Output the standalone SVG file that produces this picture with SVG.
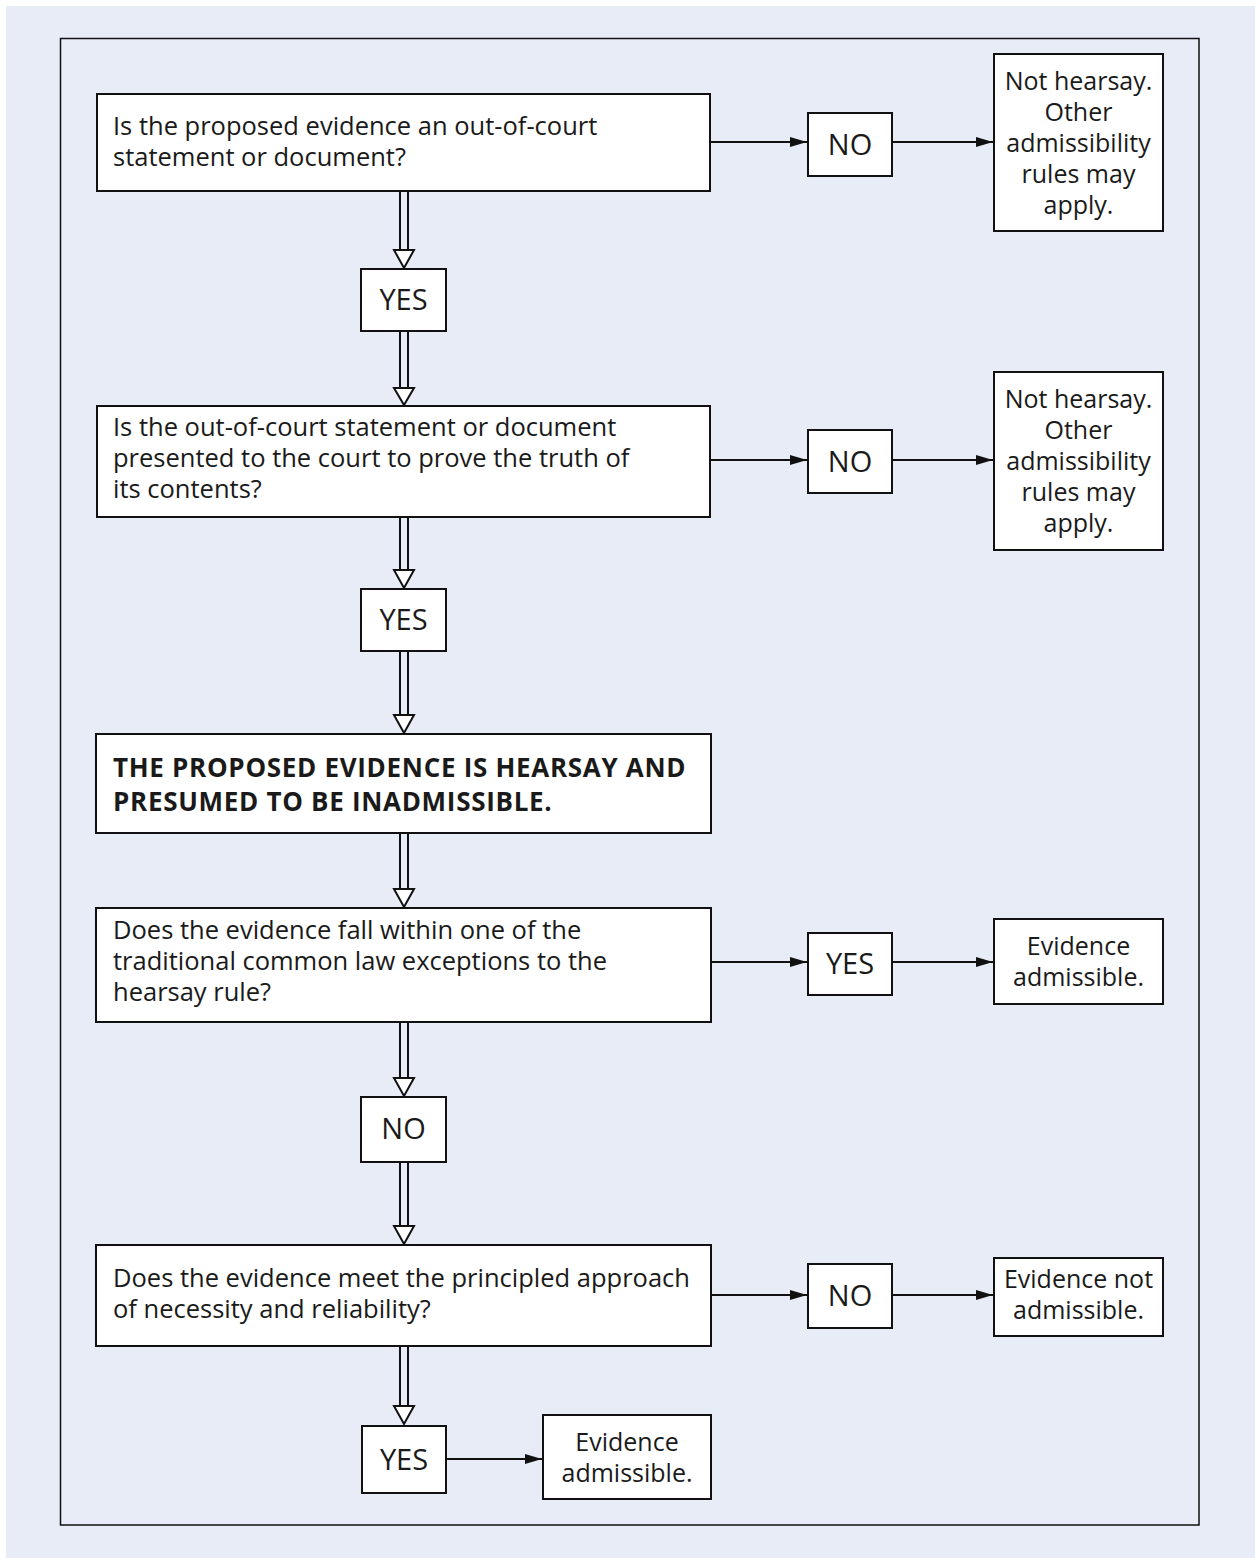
<svg xmlns="http://www.w3.org/2000/svg" width="1255" height="1558" viewBox="0 0 1255 1558">
<style>
.bx{fill:#fff;stroke:#111;stroke-width:2}
.t{font-family:"Open Sans","Liberation Sans",sans-serif;font-size:25.5px;fill:#1a1a1a}
.r{font-size:25px}
.c{text-anchor:middle}
.l{font-size:29px}
.b{font-weight:bold;font-size:26px;letter-spacing:0.7px}
.ln{stroke:#111;stroke-width:2;fill:none}
.hd{fill:#fff;stroke:#111;stroke-width:2;stroke-linejoin:miter}
</style>
<defs>
<marker id="ah" markerWidth="17" markerHeight="10" refX="17" refY="5" orient="auto" markerUnits="userSpaceOnUse">
<path d="M0,0 L17,5 L0,10 Z" fill="#111"/>
</marker>
</defs>
<rect x="0" y="0" width="1255" height="1558" fill="#fff"/>
<rect x="6" y="6" width="1249" height="1552" fill="#e8ecf7"/>
<rect x="60.5" y="38.5" width="1138.5" height="1486.5" fill="none" stroke="#111" stroke-width="1.5"/>

<g id="connectors">
<g id="dbl1"><path class="ln" d="M400,191 V251 M408,191 V251"/><path class="hd" d="M394,250 H414 L404,268 Z"/></g>
<g id="dbl2"><path class="ln" d="M400,331 V389 M408,331 V389"/><path class="hd" d="M394,388 H414 L404,405 Z"/></g>
<g id="dbl3"><path class="ln" d="M400,517 V571 M408,517 V571"/><path class="hd" d="M394,570 H414 L404,588 Z"/></g>
<g id="dbl4"><path class="ln" d="M400,651 V716 M408,651 V716"/><path class="hd" d="M394,715 H414 L404,733 Z"/></g>
<g id="dbl5"><path class="ln" d="M400,833 V890 M408,833 V890"/><path class="hd" d="M394,889 H414 L404,907 Z"/></g>
<g id="dbl6"><path class="ln" d="M400,1022 V1079 M408,1022 V1079"/><path class="hd" d="M394,1078 H414 L404,1096 Z"/></g>
<g id="dbl7"><path class="ln" d="M400,1162 V1227 M408,1162 V1227"/><path class="hd" d="M394,1226 H414 L404,1244 Z"/></g>
<g id="dbl8"><path class="ln" d="M400,1346 V1407 M408,1346 V1407"/><path class="hd" d="M394,1406 H414 L404,1424 Z"/></g>
<line class="ln" x1="710" y1="142" x2="807" y2="142" marker-end="url(#ah)"/>
<line class="ln" x1="892" y1="142" x2="993" y2="142" marker-end="url(#ah)"/>
<line class="ln" x1="710" y1="460" x2="807" y2="460" marker-end="url(#ah)"/>
<line class="ln" x1="892" y1="460" x2="993" y2="460" marker-end="url(#ah)"/>
<line class="ln" x1="711" y1="962" x2="807" y2="962" marker-end="url(#ah)"/>
<line class="ln" x1="892" y1="962" x2="993" y2="962" marker-end="url(#ah)"/>
<line class="ln" x1="711" y1="1295" x2="807" y2="1295" marker-end="url(#ah)"/>
<line class="ln" x1="892" y1="1295" x2="993" y2="1295" marker-end="url(#ah)"/>
<line class="ln" x1="446" y1="1459" x2="542" y2="1459" marker-end="url(#ah)"/>
</g>

<g id="q1"><rect class="bx" x="97" y="94" width="613" height="97"/>
<text class="t" x="113" y="135">Is the proposed evidence an out-of-court</text>
<text class="t" x="113" y="166">statement or document?</text></g>
<g id="yes1"><rect class="bx" x="361" y="269" width="85" height="62"/><text class="t c l" x="403.5" y="310">YES</text></g>
<g id="q2"><rect class="bx" x="97" y="406" width="613" height="111"/>
<text class="t" x="113" y="436">Is the out-of-court statement or document</text>
<text class="t" x="113" y="467">presented to the court to prove the truth of</text>
<text class="t" x="113" y="498">its contents?</text></g>
<g id="yes2"><rect class="bx" x="361" y="589" width="85" height="62"/><text class="t c l" x="403.5" y="630">YES</text></g>
<g id="h"><rect class="bx" x="96" y="734" width="615" height="99"/>
<text class="t b" x="113" y="777">THE PROPOSED EVIDENCE IS HEARSAY AND</text>
<text class="t b" x="113" y="811">PRESUMED TO BE INADMISSIBLE.</text></g>
<g id="q3"><rect class="bx" x="96" y="908" width="615" height="114"/>
<text class="t" x="113" y="939">Does the evidence fall within one of the</text>
<text class="t" x="113" y="970">traditional common law exceptions to the</text>
<text class="t" x="113" y="1001">hearsay rule?</text></g>
<g id="no3"><rect class="bx" x="361" y="1097" width="85" height="65"/><text class="t c l" x="403.5" y="1139">NO</text></g>
<g id="q4"><rect class="bx" x="96" y="1245" width="615" height="101"/>
<text class="t" x="113" y="1287">Does the evidence meet the principled approach</text>
<text class="t" x="113" y="1318">of necessity and reliability?</text></g>
<g id="yes4"><rect class="bx" x="362" y="1426" width="84" height="67"/><text class="t c l" x="404" y="1470">YES</text></g>
<g id="adm2"><rect class="bx" x="543" y="1415" width="168" height="84"/>
<text class="t r c" x="627" y="1451">Evidence</text><text class="t r c" x="627" y="1482">admissible.</text></g>

<g id="no1"><rect class="bx" x="808" y="113" width="84" height="63"/><text class="t c l" x="850" y="155">NO</text></g>
<g id="r1"><rect class="bx" x="994" y="54" width="169" height="177"/>
<text class="t r c" x="1078.5" y="90">Not hearsay.</text><text class="t r c" x="1078.5" y="121">Other</text><text class="t r c" x="1078.5" y="152">admissibility</text><text class="t r c" x="1078.5" y="183">rules may</text><text class="t r c" x="1078.5" y="214">apply.</text></g>
<g id="no2"><rect class="bx" x="808" y="430" width="84" height="63"/><text class="t c l" x="850" y="472">NO</text></g>
<g id="r2"><rect class="bx" x="994" y="372" width="169" height="178"/>
<text class="t r c" x="1078.5" y="408">Not hearsay.</text><text class="t r c" x="1078.5" y="439">Other</text><text class="t r c" x="1078.5" y="470">admissibility</text><text class="t r c" x="1078.5" y="501">rules may</text><text class="t r c" x="1078.5" y="532">apply.</text></g>
<g id="yes3"><rect class="bx" x="808" y="933" width="84" height="62"/><text class="t c l" x="850" y="974">YES</text></g>
<g id="adm1"><rect class="bx" x="994" y="919" width="169" height="85"/>
<text class="t r c" x="1078.5" y="955">Evidence</text><text class="t r c" x="1078.5" y="986">admissible.</text></g>
<g id="no4"><rect class="bx" x="808" y="1264" width="84" height="64"/><text class="t c l" x="850" y="1306">NO</text></g>
<g id="nadm"><rect class="bx" x="994" y="1258" width="169" height="78"/>
<text class="t r c" x="1078.5" y="1288">Evidence not</text><text class="t r c" x="1078.5" y="1319">admissible.</text></g>
</svg>
